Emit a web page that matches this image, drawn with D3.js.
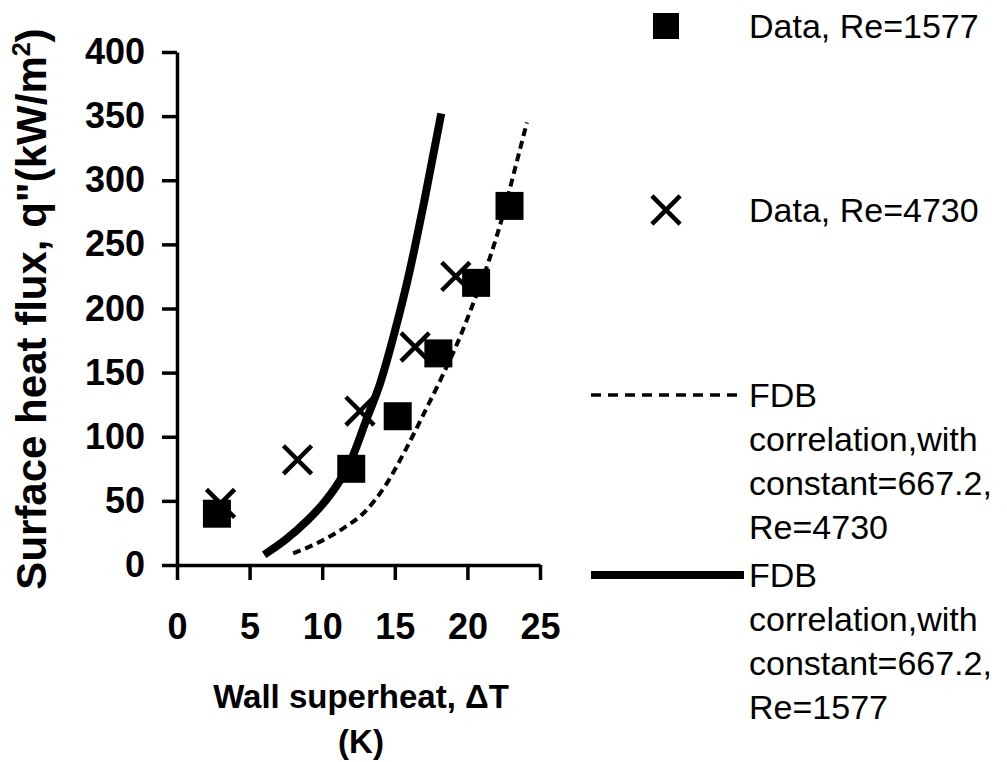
<!DOCTYPE html>
<html>
<head>
<meta charset="utf-8">
<script src="https://cdn.jsdelivr.net/npm/d3@7"></script>
<style>
  body { margin: 0; background: #fff; }
  svg { display: block; }
  text { font-family: "Liberation Sans", Arial, Helvetica, sans-serif; fill: #000; }
</style>
</head>
<body>
<div id="chart"></div>
<script>
// measured points, wall superheat (K) vs heat flux (kW/m2)
const re1577X = [2.75, 12.0, 15.2, 18.0, 20.6, 22.9];
const re1577Q = [40, 75, 116, 165, 220, 280];
const re4730X = [3.0, 8.3, 12.6, 16.4, 19.2];
const re4730Q = [48, 82, 120, 170, 225];

// FDB correlation curves
const fdb1577X = [6.0, 7.5, 9.0, 10.0, 11.0, 12.0, 13.0, 14.0, 15.0, 16.0, 17.0, 18.2];
const fdb1577Q = [8, 20, 35, 47, 62, 82, 112, 142, 182, 228, 282, 352];
const fdb4730X = [8.0, 10.0, 11.5, 12.8, 14.3, 15.75, 17.0, 18.3, 19.2, 20.5, 21.5, 22.5, 23.3, 24.1];
const fdb4730Q = [9, 19, 29, 40, 61, 90, 118, 148, 170, 207, 238, 275, 310, 345];

const xTicks = [0, 5, 10, 15, 20, 25];
const yTicks = [0, 50, 100, 150, 200, 250, 300, 350, 400];

const legendData = [
  { kind: 'square', lines: ['Data, Re=1577'] },
  { kind: 'times', lines: ['Data, Re=4730'] },
  { kind: 'dash', lines: ['FDB', 'correlation,with', 'constant=667.2,', 'Re=4730'] },
  { kind: 'solid', lines: ['FDB', 'correlation,with', 'constant=667.2,', 'Re=1577'] }
];

const W = 1007, H = 762;
const svg = d3.select('#chart').append('svg').attr('width', W).attr('height', H);

const x = d3.scaleLinear().domain([0, 25]).range([177, 540]);
const y = d3.scaleLinear().domain([0, 400]).range([565, 52]);

// axes
const yAxis = svg.append('g')
  .attr('transform', `translate(${x(0)},0)`)
  .call(d3.axisLeft(y).tickValues(yTicks).tickSize(15).tickSizeOuter(0).tickPadding(17));
const xAxis = svg.append('g')
  .attr('transform', `translate(0,${y(0)})`)
  .call(d3.axisBottom(x).tickValues(xTicks).tickSize(15).tickSizeOuter(0).tickPadding(33));

[xAxis, yAxis].forEach((g) => {
  g.select('.domain').attr('stroke', '#000').attr('stroke-width', 3.5);
  g.selectAll('.tick line').attr('stroke', '#000').attr('stroke-width', 3.5);
  g.selectAll('.tick text')
    .attr('fill', '#000')
    .attr('font-size', 36)
    .attr('font-weight', 'bold')
    .attr('font-family', '"Liberation Sans", Arial, sans-serif');
});

// axis titles
const xt = svg.append('text')
  .attr('text-anchor', 'middle')
  .attr('font-size', 33)
  .attr('font-weight', 'bold');
xt.append('tspan').attr('x', 361).attr('y', 708).text('Wall superheat, \u0394T');
xt.append('tspan').attr('x', 361).attr('y', 753).text('(K)');

const yt = svg.append('text')
  .attr('transform', 'translate(46,309) rotate(-90)')
  .attr('text-anchor', 'middle')
  .attr('font-size', 42)
  .attr('font-weight', 'bold');
yt.append('tspan').text('Surface heat flux, q"(kW/m');
yt.append('tspan').attr('font-size', 25).attr('dy', -16).text('2');
yt.append('tspan').attr('dy', 16).text(')');

// curves
const line = d3.line().x((d) => x(d[0])).y((d) => y(d[1])).curve(d3.curveMonotoneX);
svg.append('path')
  .datum(d3.zip(fdb4730X, fdb4730Q))
  .attr('d', line)
  .attr('fill', 'none')
  .attr('stroke', '#000')
  .attr('stroke-width', 4)
  .attr('stroke-dasharray', '8,5');
svg.append('path')
  .datum(d3.zip(fdb1577X, fdb1577Q))
  .attr('d', line)
  .attr('fill', 'none')
  .attr('stroke', '#000')
  .attr('stroke-width', 8);

// markers
const square = d3.symbol(d3.symbolSquare, 28 * 28);
const times = d3.symbol(d3.symbolTimes, 520);

svg.append('g').selectAll('path')
  .data(d3.zip(re1577X, re1577Q))
  .join('path')
  .attr('transform', (d) => `translate(${x(d[0])},${y(d[1])})`)
  .attr('d', square)
  .attr('fill', '#000');

svg.append('g').selectAll('path')
  .data(d3.zip(re4730X, re4730Q))
  .join('path')
  .attr('transform', (d) => `translate(${x(d[0])},${y(d[1])})`)
  .attr('d', times)
  .attr('fill', 'none')
  .attr('stroke', '#000')
  .attr('stroke-width', 4.5);

// legend
const legendY = [26, 210, 395, 575];
const legend = svg.append('g').selectAll('g')
  .data(legendData)
  .join('g')
  .attr('transform', (d, i) => `translate(0,${legendY[i]})`);

legend.each(function (d) {
  const g = d3.select(this);
  if (d.kind === 'square') {
    g.append('path').attr('transform', 'translate(666,0)').attr('d', d3.symbol(d3.symbolSquare, 26 * 26)).attr('fill', '#000');
  } else if (d.kind === 'times') {
    g.append('path').attr('transform', 'translate(666,0)').attr('d', times)
      .attr('fill', 'none').attr('stroke', '#000').attr('stroke-width', 4.5);
  } else {
    g.append('line').attr('x1', 591).attr('x2', 744).attr('y1', 0).attr('y2', 0)
      .attr('stroke', '#000')
      .attr('stroke-width', d.kind === 'solid' ? 8 : 3.5)
      .attr('stroke-dasharray', d.kind === 'dash' ? '10,7' : null);
  }
  g.append('text')
    .attr('font-size', 34)
    .selectAll('tspan')
    .data(d.lines)
    .join('tspan')
    .attr('x', 749)
    .attr('y', (t, i) => 12 + i * 44)
    .text((t) => t);
});
</script>
</body>
</html>
